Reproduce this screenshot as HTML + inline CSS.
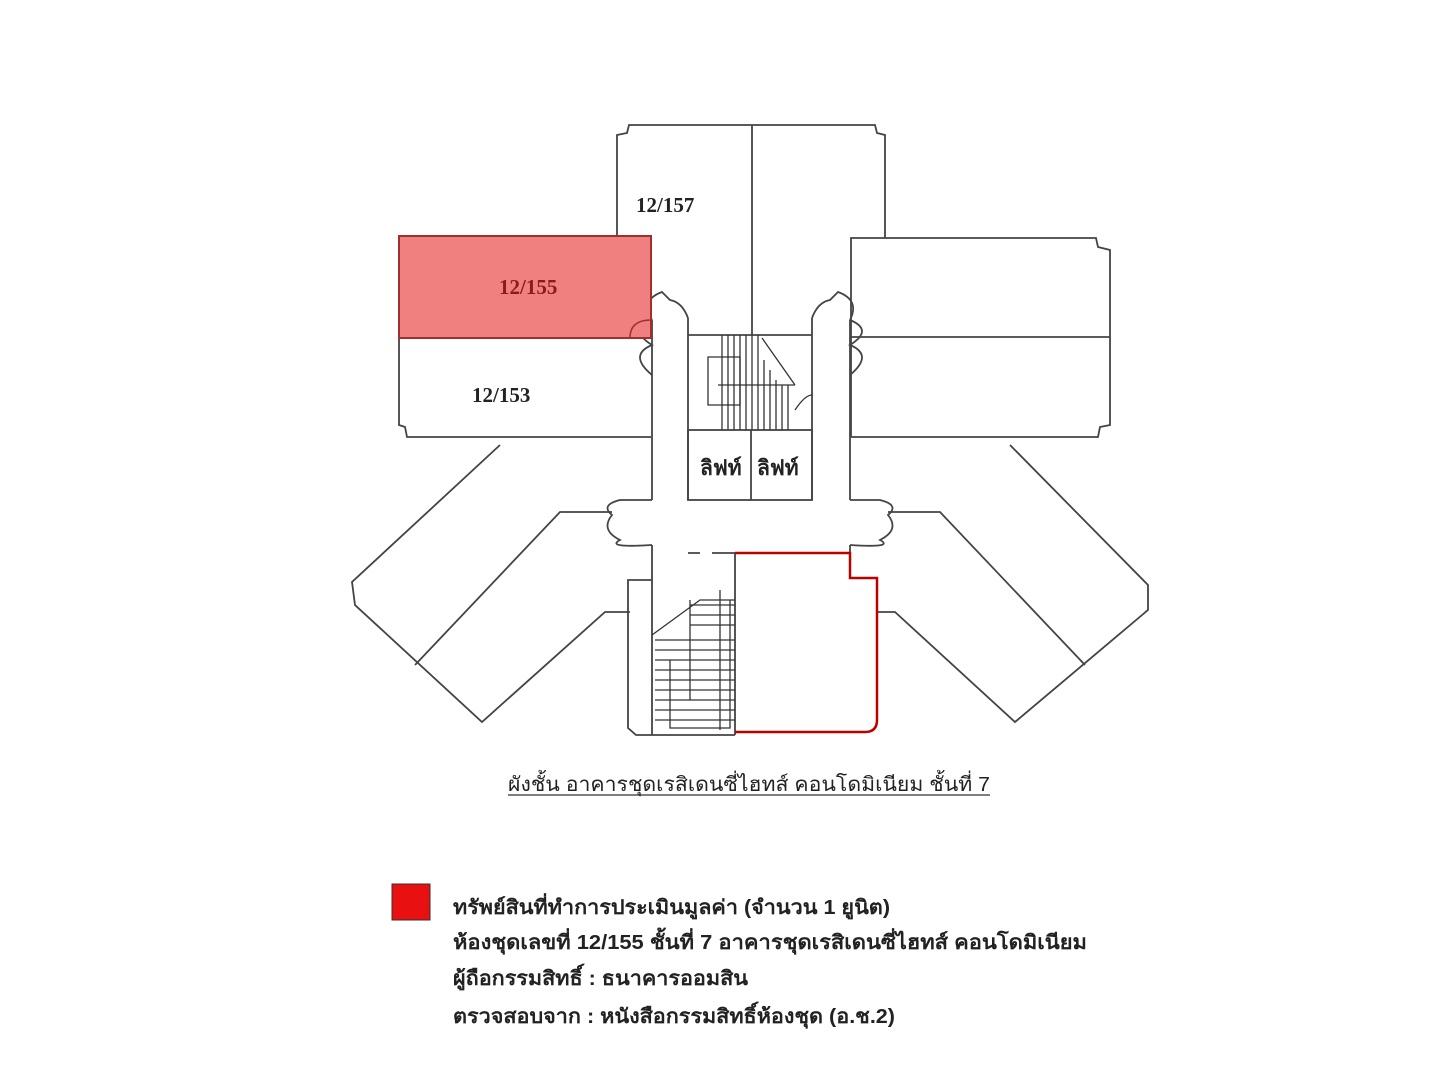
<!DOCTYPE html>
<html><head><meta charset="utf-8"><style>
html,body{margin:0;padding:0;background:#fff;width:1440px;height:1080px;overflow:hidden}
svg{position:absolute;left:0;top:0}
.t{font-family:"Liberation Sans",sans-serif;fill:#222}
</style></head><body>
<svg width="1440" height="1080" viewBox="0 0 1440 1080">
<g fill="none" stroke="#444" stroke-width="1.8">
<path d="M617,335 L617,135 L627,133 L629,125 L875,125 L877,133 L885,135 L885,238"/>
<line x1="752" y1="125" x2="752" y2="335"/>
<path d="M651,238 L399,238 L399,425 L405,427 L407,437 L651,437"/>
<path d="M851,437 L851,238 L1096,238 L1098,247 L1110,250 L1110,425 L1100,427 L1098,437 L851,437"/>
<line x1="851" y1="337" x2="1110" y2="337"/>
<path d="M652,320 L652,500 M688,318 L688,500 M652,545 L652,580 M812,318 L812,500 M850,320 L850,500 M850,545 L850,553"/>
<path d="M652,320 Q640,300 662,292 L670,300 Q682,302 688,318"/>
<path d="M812,318 Q818,302 830,300 L838,292 Q860,300 850,320"/>
<path d="M652,320 Q628,330 652,345 Q628,355 652,375"/>
<path d="M850,320 Q874,330 850,345 Q874,355 850,375"/>
<line x1="688" y1="335" x2="812" y2="335"/>
<rect x="688" y="430" width="124" height="70"/>
<line x1="751" y1="430" x2="751" y2="500"/>
<path d="M652,500 L620,500 Q600,505 612,515 Q600,530 620,540 Q605,548 652,545"/>
<path d="M850,500 L880,500 Q900,505 888,515 Q900,530 880,540 Q895,548 850,545"/>
<path d="M500,445 L352,582 L355,605 L482,722 L605,612 L630,612"/>
<path d="M415,665 L560,512 L612,512"/>
<path d="M1010,445 L1148,585 L1148,610 L1015,722 L895,612 L877,612"/>
<path d="M1085,665 L940,512 L888,512"/>
<path d="M652,580 L628,580 L628,728 L636,735 L735,735"/>
<line x1="652" y1="580" x2="652" y2="735"/>
<path d="M688,553 L700,553 M712,553 L735,553 L735,735"/>
</g>
<g stroke="#333" stroke-width="1.3" fill="none">
<path d="M722,335 V430 M728,335 V430 M734,335 V430 M740,335 V430 M746,335 V430 M752,335 V430 M758,335 V430 M764,360 V430 M770,370 V430 M776,380 V430 M782,385 V430 M788,385 V430"/>
<path d="M708,357 H740 V405 H708 Z"/>
<path d="M718,385 H795"/>
<path d="M762,338 L795,385"/>
<path d="M795,410 Q805,395 812,395"/>
</g>
<g stroke="#333" stroke-width="1.3" fill="none">
<path d="M655,640 H735 M655,650 H735 M655,660 H735 M655,670 H735 M655,680 H735 M655,690 H735 M655,700 H735 M655,710 H735 M655,720 H735 M690,605 H735 M690,615 H735 M690,625 H735"/>
<path d="M652,635 L700,600 L735,600"/>
<path d="M670,660 V728 H730 V600 M690,600 V700"/>
<path d="M720,590 V730"/>
</g>
<path d="M735,553 H850 V578 H877 V720 Q877,732 865,732 H735" fill="none" stroke="#b00" stroke-width="2.5"/>
<rect x="399" y="236" width="252" height="102" fill="#f08080" stroke="#a03030" stroke-width="2"/>
<path d="M651,320 Q630,320 630,338" fill="none" stroke="#a03030" stroke-width="1.5"/>
<g class="t" font-weight="bold" font-size="21">
<text x="636" y="212" font-family="Liberation Serif">12/157</text>
<text x="499" y="294" fill="#8b1a1a" font-family="Liberation Serif">12/155</text>
<text x="472" y="402" font-family="Liberation Serif">12/153</text>
</g>
<g class="t" font-weight="bold" font-size="21">
<text x="700" y="475">ลิฟท์</text>
<text x="757" y="475">ลิฟท์</text>
</g>
<text class="t" x="508" y="791" font-size="20" textLength="482" lengthAdjust="spacingAndGlyphs">ผังชั้น อาคารชุดเรสิเดนซี่ไฮทส์ คอนโดมิเนียม ชั้นที่ 7</text>
<line x1="508" y1="795" x2="990" y2="795" stroke="#333" stroke-width="1.3"/>
<rect x="392" y="884" width="38" height="36" fill="#e81010" stroke="#333" stroke-width="1"/>
<g class="t" font-size="20" font-weight="bold" stroke="none">
<text x="453" y="914" textLength="437" lengthAdjust="spacingAndGlyphs">ทรัพย์สินที่ทำการประเมินมูลค่า (จำนวน 1 ยูนิต)</text>
<text x="453" y="949" textLength="634" lengthAdjust="spacingAndGlyphs">ห้องชุดเลขที่  12/155  ชั้นที่ 7  อาคารชุดเรสิเดนซี่ไฮทส์ คอนโดมิเนียม</text>
<text x="453" y="985" textLength="295" lengthAdjust="spacingAndGlyphs">ผู้ถือกรรมสิทธิ์ : ธนาคารออมสิน</text>
<text x="453" y="1023" textLength="442" lengthAdjust="spacingAndGlyphs">ตรวจสอบจาก : หนังสือกรรมสิทธิ์ห้องชุด (อ.ช.2)</text>
</g>
</svg>
</body></html>
